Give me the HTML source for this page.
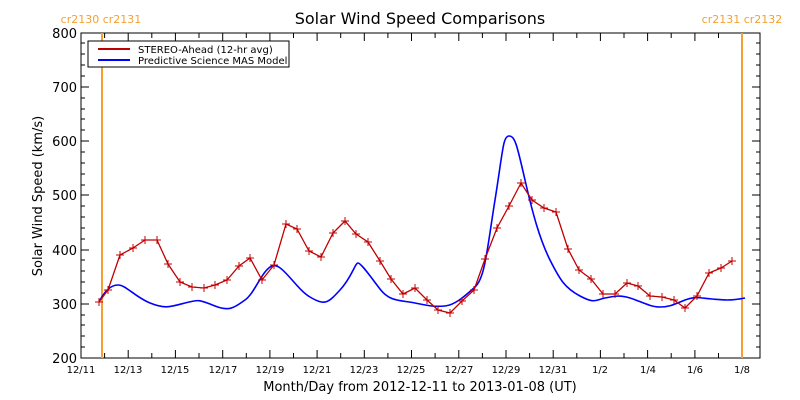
<!DOCTYPE html>
<html><head><meta charset="utf-8"><style>body{margin:0;background:#fff}svg{display:block}text{font-family:"DejaVu Sans","Liberation Sans",sans-serif}</style></head><body>
<svg width="800" height="400" viewBox="0 0 800 400" xmlns="http://www.w3.org/2000/svg">
<rect width="800" height="400" fill="#fff"/>
<text x="420" y="24" font-size="16" text-anchor="middle" fill="#000">Solar Wind Speed Comparisons</text>
<text x="101" y="23" font-size="11" text-anchor="middle" fill="#f5a030">cr2130 cr2131</text>
<text x="742" y="23" font-size="11" text-anchor="middle" fill="#f5a030">cr2131 cr2132</text>
<g stroke="#000" stroke-width="1" fill="none">
<rect x="81" y="33" width="679" height="325"/>
<path id="yt" d="M81 358h8M81 304h8M81 250h8M81 195h8M81 141h8M81 87h8M81 33h8
M760 358h-8M760 304h-8M760 250h-8M760 195h-8M760 141h-8M760 87h-8M760 33h-8"/>
<path d="M81 347h4M81 336h4M81 325h4M81 315h4M81 293h4M81 282h4M81 271h4M81 260h4M81 239h4M81 228h4M81 217h4M81 206h4M81 185h4M81 174h4M81 163h4M81 152h4M81 130h4M81 119h4M81 109h4M81 98h4M81 76h4M81 65h4M81 54h4M81 43h4
M760 347h-4M760 336h-4M760 325h-4M760 315h-4M760 293h-4M760 282h-4M760 271h-4M760 260h-4M760 239h-4M760 228h-4M760 217h-4M760 206h-4M760 185h-4M760 174h-4M760 163h-4M760 152h-4M760 130h-4M760 119h-4M760 109h-4M760 98h-4M760 76h-4M760 65h-4M760 54h-4M760 43h-4"/>
<path d="M81 358v-8M104.6 358v-5M128.2 358v-8M151.8 358v-5M175.4 358v-8M199 358v-5M222.7 358v-8M246.3 358v-5M269.9 358v-8M293.5 358v-5M317.1 358v-8M340.7 358v-5M364.3 358v-8M387.9 358v-5M411.5 358v-8M435.1 358v-5M458.8 358v-8M482.4 358v-5M506 358v-8M529.6 358v-5M553.2 358v-8M576.8 358v-5M600.4 358v-8M624 358v-5M647.6 358v-8M671.2 358v-5M694.9 358v-8M718.5 358v-5M742.1 358v-8
M81 33v8M104.6 33v5M128.2 33v8M151.8 33v5M175.4 33v8M199 33v5M222.7 33v8M246.3 33v5M269.9 33v8M293.5 33v5M317.1 33v8M340.7 33v5M364.3 33v8M387.9 33v5M411.5 33v8M435.1 33v5M458.8 33v8M482.4 33v5M506 33v8M529.6 33v5M553.2 33v8M576.8 33v5M600.4 33v8M624 33v5M647.6 33v8M671.2 33v5M694.9 33v8M718.5 33v5M742.1 33v8"/>
</g>
<g font-size="13" text-anchor="end" fill="#000">
<text x="77" y="363">200</text><text x="77" y="309">300</text><text x="77" y="255">400</text><text x="77" y="200">500</text><text x="77" y="146">600</text><text x="77" y="92">700</text><text x="77" y="38">800</text>
</g>
<g font-size="10" text-anchor="middle" fill="#000">
<text x="81" y="373">12/11</text><text x="128" y="373">12/13</text><text x="175" y="373">12/15</text><text x="223" y="373">12/17</text><text x="270" y="373">12/19</text><text x="317" y="373">12/21</text><text x="364" y="373">12/23</text><text x="411" y="373">12/25</text><text x="459" y="373">12/27</text><text x="506" y="373">12/29</text><text x="553" y="373">12/31</text><text x="600" y="373">1/2</text><text x="648" y="373">1/4</text><text x="695" y="373">1/6</text><text x="742" y="373">1/8</text>
</g>
<text x="420" y="391" font-size="13" text-anchor="middle">Month/Day from 2012-12-11 to 2013-01-08 (UT)</text>
<text transform="translate(42,196) rotate(-90)" font-size="13" text-anchor="middle">Solar Wind Speed (km/s)</text>
<line x1="102" y1="33" x2="102" y2="358" stroke="#f5a030" stroke-width="2"/>
<line x1="742" y1="33" x2="742" y2="358" stroke="#f5a030" stroke-width="2"/>
<path fill="none" stroke="#0000ff" stroke-width="1.6" d="M99 302 C104 292,110 285,118 285 S135 297,150 303 S170 307,185 303 S200 300,215 306 S235 307,245 300 S262 270,272 266 S295 288,310 297 S328 303,340 290 S355 263,358 263 S370 276,380 289 S400 300,415 303 S435 307,445 306 S465 296,475 287 S487 250,495 200 S503 136,509 136 S517 145,525 180 S540 240,550 260 S565 288,580 296 S595 300,605 298 S620 295,630 298 S650 307,660 307 S675 304,685 300 S700 298,712 299 S730 301,745 298"/>
<polyline fill="none" stroke="#c00000" stroke-width="1.3" points="99,302 108,290 120,255 133,248 145,240 157,240 168,264 180,282 192,287 204,288 215,285 227,280 239,266 250,258 262,280 274,265 286,224 297,229 309,251 321,257 333,233 345,221 356,234 368,242 380,261 391,279 403,294 415,288 427,300 438,310 450,313 462,301 474,290 485,259 497,228 509,206 521,183 532,200 544,208 556,212 568,249 579,270 591,279 603,294 615,294 627,283 638,286 650,296 662,297 674,300 685,308 697,296 709,273 721,268 732,261"/>
<g stroke="#c00000" stroke-width="1" id="m"></g>
<path stroke="#c00000" stroke-width="1" fill="none" d="M95 302h8M99 298v8 M104 290h8M108 286v8 M116 255h8M120 251v8 M129 248h8M133 244v8 M141 240h8M145 236v8 M153 240h8M157 236v8 M164 264h8M168 260v8 M176 282h8M180 278v8 M188 287h8M192 283v8 M200 288h8M204 284v8 M211 285h8M215 281v8 M223 280h8M227 276v8 M235 266h8M239 262v8 M246 258h8M250 254v8 M258 280h8M262 276v8 M270 265h8M274 261v8 M282 224h8M286 220v8 M293 229h8M297 225v8 M305 251h8M309 247v8 M317 257h8M321 253v8 M329 233h8M333 229v8 M341 221h8M345 217v8 M352 234h8M356 230v8 M364 242h8M368 238v8 M376 261h8M380 257v8 M387 279h8M391 275v8 M399 294h8M403 290v8 M411 288h8M415 284v8 M423 300h8M427 296v8 M434 310h8M438 306v8 M446 313h8M450 309v8 M458 301h8M462 297v8 M470 290h8M474 286v8 M481 259h8M485 255v8 M493 228h8M497 224v8 M505 206h8M509 202v8 M517 183h8M521 179v8 M528 200h8M532 196v8 M540 208h8M544 204v8 M552 212h8M556 208v8 M564 249h8M568 245v8 M575 270h8M579 266v8 M587 279h8M591 275v8 M599 294h8M603 290v8 M611 294h8M615 290v8 M623 283h8M627 279v8 M634 286h8M638 282v8 M646 296h8M650 292v8 M658 297h8M662 293v8 M670 300h8M674 296v8 M681 308h8M685 304v8 M693 296h8M697 292v8 M705 273h8M709 269v8 M717 268h8M721 264v8 M728 261h8M732 257v8"/>
<rect x="88" y="41" width="201" height="26" fill="#fff" stroke="#000"/>
<line x1="98" y1="49" x2="130" y2="49" stroke="#c00000" stroke-width="2"/>
<line x1="98" y1="60" x2="130" y2="60" stroke="#0000ff" stroke-width="2"/>
<text x="138" y="53" font-size="10">STEREO-Ahead (12-hr avg)</text>
<text x="138" y="64" font-size="10">Predictive Science MAS Model</text>
</svg>
</body></html>
